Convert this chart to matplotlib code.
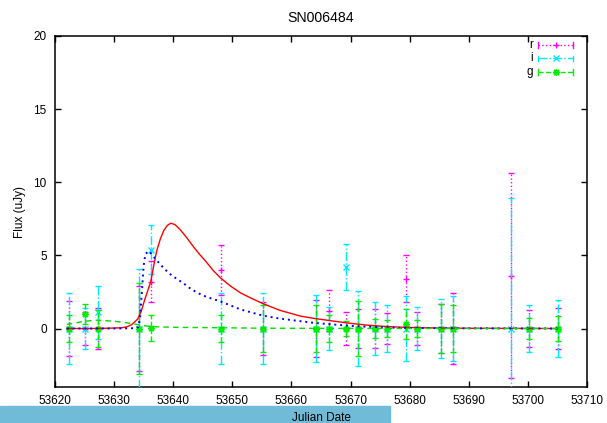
import numpy as np
import matplotlib
matplotlib.use('Agg')
import matplotlib.pyplot as plt
from matplotlib.patches import Rectangle

plt.rcParams['font.family'] = ['Liberation Sans', 'DejaVu Sans']
plt.rcParams['font.size'] = 8.5

# observed photometry (Julian date, flux, 1-sigma error)
jd = [53622.3, 53625.1, 53627.2, 53634.2, 53636.2, 53648.1, 53655.2, 53664.2,
      53666.3, 53669.3, 53671.2, 53674.1, 53676.2, 53679.3, 53681.2, 53685.3,
      53687.3, 53697.2, 53700.2, 53705.1]

flux_r = [0, 0, 0, 0, 3.2, 4.0, 0, 0, 1.2, 0, 0, 0, 0, 3.4, 0, 0, 0, 3.6, 0, 0]
err_r = [1.9, 1.1, 1.4, 2.9, 1.4, 1.7, 1.8, 1.95, 1.4, 1.15, 1.3, 1.3, 1.05,
         1.6, 1.1, 1.7, 2.4, 7.0, 1.25, 1.4]

flux_i = [0, 0, 1.1, 0, 5.4, 0, 0, 0, 0, 4.2, 0, 0, 0, 0, 0, 0, 0, 0, 0, 0]
err_i = [2.45, 1.4, 1.8, 4.1, 1.7, 2.4, 2.45, 2.3, 1.5, 1.6, 2.55, 1.8, 1.6,
         2.2, 1.5, 2.05, 2.2, 8.9, 1.6, 1.95]

jd_g = [53622.3, 53625.1, 53627.2, 53634.2, 53636.2, 53648.1, 53655.2, 53664.2,
        53666.3, 53669.3, 53671.2, 53674.1, 53676.2, 53679.3, 53681.2, 53685.3,
        53687.3, 53700.2, 53705.1]
flux_g = [0, 1.0, 0, 0, 0.05, 0, 0, 0, 0, 0, 0, 0, 0, 0.3, 0, 0, 0, 0, 0]
err_g = [0.95, 0.7, 1.25, 3.1, 0.9, 0.95, 1.6, 1.6, 0.9, 0.5, 1.9, 0.65, 0.6,
         1.0, 0.6, 1.65, 1.6, 0.72, 0.85]

# light curve models
mjd_r = [53622, 53626, 53629, 53631.3, 53632.2, 53633, 53634, 53634.6, 53635.2,
         53635.7, 53636.2, 53636.7, 53637.2, 53637.8, 53638.4, 53639, 53639.6,
         53640.3, 53641.2, 53642.3, 53643.4, 53644.5, 53645.7, 53646.8, 53648,
         53649.7, 53651.4, 53653.3, 53655.2, 53658, 53661.5, 53664, 53667.2,
         53670, 53672.8, 53675.5, 53678.5, 53682, 53688, 53695, 53705]
mod_r = [0, 0, 0.02, 0.05, 0.12, 0.27, 0.65, 1.2, 2.0, 2.6, 3.2, 4.3, 5.3, 6.1,
         6.7, 7.05, 7.2, 7.1, 6.75, 6.2, 5.6, 5.05, 4.5, 3.95, 3.46, 2.9, 2.43,
         2.05, 1.7, 1.25, 0.85, 0.68, 0.5, 0.35, 0.23, 0.15, 0.09, 0.05, 0.02,
         0.01, 0]

mjd_i = [53622, 53630, 53633.5, 53634.1, 53634.4, 53634.7, 53635.0, 53635.3,
         53635.9, 53636.9, 53638, 53639.2, 53640.4, 53641.7, 53643, 53644.3,
         53645.7, 53648, 53651.4, 53655.2, 53658, 53661.5, 53664, 53667.2,
         53670, 53672.8, 53678.5, 53690, 53705]
mod_i = [0, 0, 0.02, 0.1, 0.8, 2.5, 4.3, 5.1, 5.3, 4.8, 4.3, 3.8, 3.45, 3.1, 2.7,
         2.4, 2.15, 1.85, 1.3, 0.88, 0.68, 0.5, 0.38, 0.27, 0.18, 0.12, 0.04,
         0.01, 0]

mjd_g = [53622, 53625, 53627.2, 53629.9, 53632, 53634.2, 53636.2, 53640, 53648,
         53655, 53665, 53705]
mod_g = [0.27, 0.5, 0.57, 0.5, 0.4, 0.25, 0.13, 0.08, 0.05, 0.02, 0.01, 0]

fig = plt.figure(figsize=(6.07, 4.23), dpi=100)
ax = fig.add_axes([55 / 607, 36 / 423, 532 / 607, 351 / 423])

series = [
    ('r', jd, flux_r, err_r, '#ff00ff', ':', '+'),
    ('i', jd, flux_i, err_i, '#00e8ff', '-.', 'x'),
    ('g', jd_g, flux_g, err_g, '#00ee00', '--', (8, 2, 0)),
]
for k, (name, x, y, e, col, ls, mk) in enumerate(series):
    eb = ax.errorbar(x, y, yerr=e, fmt='none', ecolor=col, elinewidth=1,
                     capsize=2.5, capthick=1, zorder=2 + k)
    eb[2][0].set_linestyle(ls)
    ax.plot(x, y, ls='none', marker=mk, color=col, ms=5, mew=1, zorder=2 + k)

ax.plot(mjd_r, mod_r, color='#ff0000', lw=1, zorder=6)
ax.plot(mjd_i, mod_i, color='#0000ff', lw=1.4, ls=(0, (1, 2)), zorder=6)
ax.plot(mjd_g, mod_g, color='#00dd00', lw=1, ls=(0, (4, 3)), zorder=7)

# gnuplot-like key
for k, (name, x, y, e, col, ls, mk) in enumerate(series):
    yy = 0.974 - k * 0.038
    ax.plot([0.908, 0.974], [yy, yy], transform=ax.transAxes, color=col, ls=ls,
            lw=1, clip_on=False)
    for xc in (0.908, 0.974):
        ax.plot([xc, xc], [yy - 0.008, yy + 0.008], transform=ax.transAxes,
                color=col, lw=1)
    ax.plot([0.941], [yy], transform=ax.transAxes, marker=mk, color=col, ms=5,
            mew=1)
    ax.text(0.898, yy, name, transform=ax.transAxes, ha='right', va='center')

ax.set_xlim(53620, 53710)
ax.set_ylim(-4, 20)
ax.set_xticks(np.arange(53620, 53711, 10))
ax.set_yticks([0, 5, 10, 15, 20])
ax.ticklabel_format(useOffset=False, style='plain')
ax.tick_params(direction='in', top=True, right=True, length=4.5, width=1, pad=6)
for s in ax.spines.values():
    s.set_linewidth(1.1)

ax.set_title('SN006484', pad=10)
ax.set_ylabel('Flux (uJy)', va='center')
ax.yaxis.set_label_coords(-0.066, 0.5)

fig.patches.append(Rectangle((0, 0), 390 / 607, 17 / 423, transform=fig.transFigure,
                             color='#70bcd8', zorder=-1))
ax.set_xlabel('Julian Date', va='center')
ax.xaxis.set_label_coords(0.5, -0.088)

fig.savefig('out.png', dpi=100)
